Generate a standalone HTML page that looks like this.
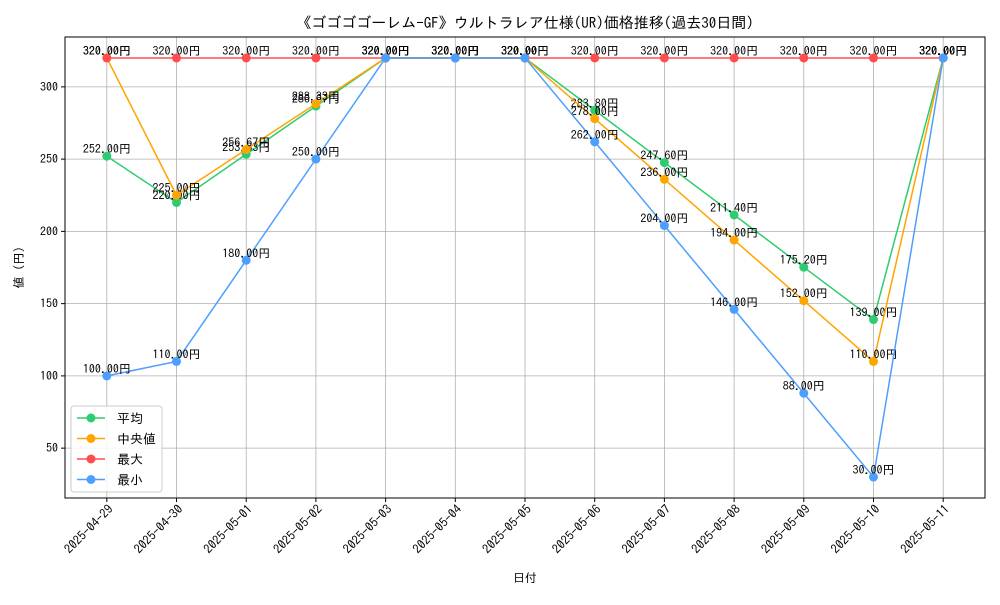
<!DOCTYPE html>
<html><head><meta charset="utf-8"><style>
body{margin:0;background:#fff}
svg{font-family:"IPAGothic","Noto Sans CJK JP",monospace}
</style></head><body>
<svg id="chart" width="1000" height="600" xmlns="http://www.w3.org/2000/svg"></svg>
<script>
const categories=["2025-04-29","2025-04-30","2025-05-01","2025-05-02","2025-05-03","2025-05-04","2025-05-05","2025-05-06","2025-05-07","2025-05-08","2025-05-09","2025-05-10","2025-05-11"];
const avgValues=[252,220,253.33,286.67,320,320,320,283.8,247.6,211.4,175.2,139,320];
const medianValues=[320,225,256.67,288.33,320,320,320,278,236,194,152,110,320];
const maxValues=[320,320,320,320,320,320,320,320,320,320,320,320,320];
const minValues=[100,110,180,250,320,320,320,262,204,146,88,30,320];
const yTicks=[50,100,150,200,250,300];
const seriesNames=["平均","中央値","最大","最小"];
const seriesColors=["#2ecc71","#ffa500","#ff4d4d","#4d9fff"];

const NS="http://www.w3.org/2000/svg";
const svg=document.getElementById('chart');
const L=65,R=985,T=37,B=498;
const yMin=15.5,yMax=334.5;
const n=categories.length;
const xs=i=>L+(R-L)*(i+0.6)/(n-1+1.2);
const ys=v=>B-(B-T)*(v-yMin)/(yMax-yMin);
function mk(tag,attrs,parent){const e=document.createElementNS(NS,tag);for(const k in attrs)e.setAttribute(k,attrs[k]);(parent||svg).appendChild(e);return e;}

yTicks.forEach(v=>{
  const g=mk('line',{x1:L,x2:R,y1:ys(v),y2:ys(v),stroke:'#b0b0b0','stroke-width':0.8});
  
  
  mk('line',{x1:L-4,x2:L,y1:ys(v),y2:ys(v),stroke:'#000'});
  const t=mk('text',{x:L-7,y:ys(v)+4,'text-anchor':'end','font-size':12});
  t.textContent=v;
  
  
});
categories.forEach((c,i)=>{
  const g=mk('line',{x1:xs(i),x2:xs(i),y1:T,y2:B,stroke:'#b0b0b0','stroke-width':0.8});
  
  
  mk('line',{x1:xs(i),x2:xs(i),y1:B,y2:B+4,stroke:'#000'});
  const t=mk('text',{x:0,y:0,'text-anchor':'end','font-size':12.5,transform:`translate(${xs(i)+7},${B+12}) rotate(-45)`});
  t.textContent=c;
  
  
});
const frame=mk('rect',{x:L,y:T,width:R-L,height:B-T,fill:'none',stroke:'#000','stroke-width':1});



const allSeries=[avgValues,medianValues,maxValues,minValues];
allSeries.forEach((vals,si)=>{
  const g=mk('g',{});
  
  
  const pl=mk('polyline',{points:vals.map((v,i)=>xs(i)+','+ys(v)).join(' '),fill:'none',stroke:seriesColors[si],'stroke-width':1.5},g);
  
  
  vals.forEach((v,i)=>{
    const c=mk('circle',{cx:xs(i),cy:ys(v),r:4.5,fill:seriesColors[si]},g);
    
    
  });
  vals.forEach((v,i)=>{
    const t=mk('text',{x:xs(i),y:ys(v)-3,'text-anchor':'middle','font-size':12},g);
    t.textContent=v.toFixed(2)+'円';
    
    
  });
});

const title=mk('text',{x:(L+R)/2,y:28,'text-anchor':'middle','font-size':15});
title.textContent='《ゴゴゴゴーレム-GF》ウルトラレア仕様(UR)価格推移(過去30日間)';


const xl=mk('text',{x:(L+R)/2,y:582,'text-anchor':'middle','font-size':12});
xl.textContent='日付';


const yl=mk('text',{x:0,y:0,'text-anchor':'middle','font-size':12,transform:`translate(23,${(T+B)/2}) rotate(-90)`});
yl.textContent='値 (円)';



const lg=mk('g',{});


mk('rect',{x:71,y:406,width:91,height:86,rx:3,fill:'#fff','fill-opacity':0.85,stroke:'#ccc'},lg);
seriesNames.forEach((nm,i)=>{
  const y=418+i*20.5;
  const e=mk('g',{},lg);
  
  
  mk('line',{x1:77,x2:105,y1:y,y2:y,stroke:seriesColors[i],'stroke-width':1.5},e);
  mk('circle',{cx:91,cy:y,r:4.5,fill:seriesColors[i]},e);
  const t=mk('text',{x:117,y:y+5,'font-size':13},e);
  t.textContent=nm;
});
</script>
</body></html>
